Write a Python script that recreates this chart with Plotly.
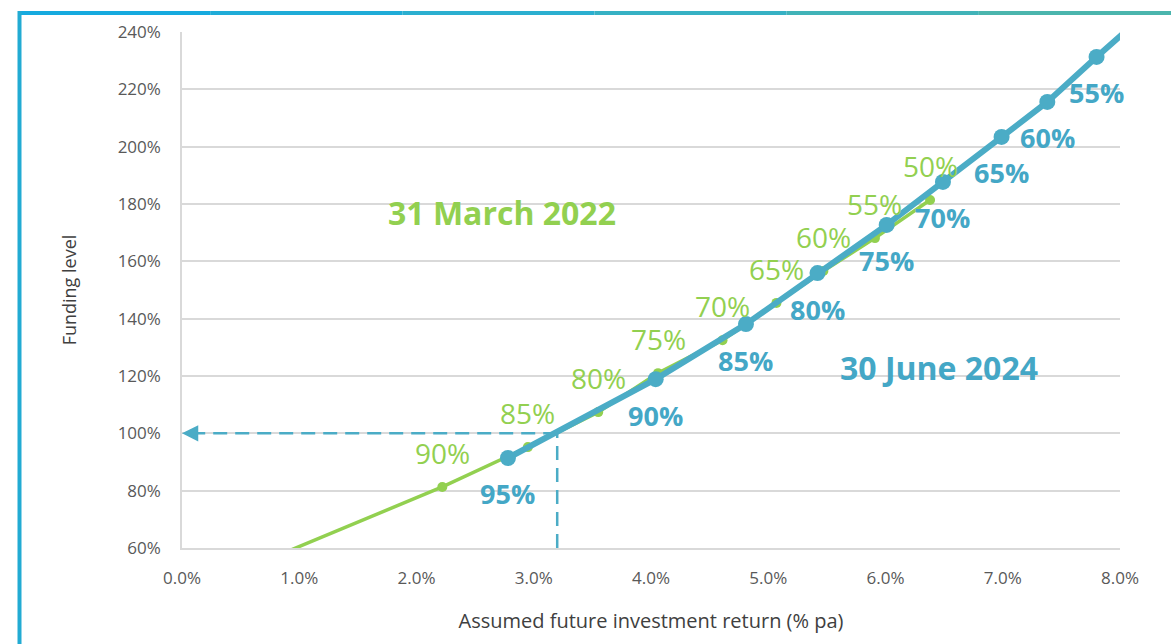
import plotly.graph_objects as go

# Funding level (%) against assumed future investment return (% pa)
# labels show the probability of the funding level being achieved
march22_return = [0.50, 2.22, 2.95, 3.55, 4.06, 4.61, 5.07, 5.47, 5.91, 6.38]
march22_funding = [52.0, 81.3, 95.2, 107.4, 121.0, 132.5, 145.5, 156.6, 168.1, 181.4]
march22_labels = ["95%", "90%", "85%", "80%", "75%", "70%", "65%", "60%", "55%", "50%"]

june24_return = [2.78, 4.04, 4.81, 5.42, 6.01, 6.49, 6.99, 7.38, 7.80, 8.25]
june24_funding = [91.4, 118.9, 138.1, 155.9, 172.7, 187.7, 203.4, 215.6, 231.3, 247.5]
june24_labels = ["95%", "90%", "85%", "80%", "75%", "70%", "65%", "60%", "55%", "50%"]

# return needed for a 100% funding level at 30 June 2024
breakeven_return = 3.2
breakeven_funding = 100

x_range = [0, 8]
y_range = [60, 240]

BLUE = "#4BACC6"
BLUE_TEXT = "#44A7C6"
GREEN = "#92D050"
GREY_TEXT = "#595959"
GRID = "#D9D9D9"
FONT = "'Open Sans', sans-serif"

W, H = 1171, 644
L, R, T, B = 182, 51, 32, 96


def px_x(px):
    return (px - L) / (W - L - R)


def px_y(py):
    return (H - B - py) / (H - T - B)


fig = go.Figure()

# dashed guide lines to the 100% funding level
fig.add_trace(go.Scatter(
    x=[breakeven_return, breakeven_return], y=[y_range[0], breakeven_funding],
    mode='lines', line=dict(color=BLUE, width=2.5, dash='14px,8px'),
    hoverinfo='skip', showlegend=False
))
fig.add_trace(go.Scatter(
    x=[breakeven_return, x_range[0] + 0.08], y=[breakeven_funding, breakeven_funding],
    mode='lines', line=dict(color=BLUE, width=2.5, dash='14px,8px'),
    hoverinfo='skip', showlegend=False
))

fig.add_trace(go.Scatter(
    x=march22_return, y=march22_funding,
    mode='lines+markers', name='31 March 2022',
    line=dict(color=GREEN, width=3.5),
    marker=dict(color=GREEN, size=10),
    text=march22_labels,
    hovertemplate='%{x:.1f}%: %{y:.0f}% (%{text})<extra>31 March 2022</extra>',
    showlegend=False
))

fig.add_trace(go.Scatter(
    x=june24_return, y=june24_funding,
    mode='lines+markers', name='30 June 2024',
    line=dict(color=BLUE, width=6),
    marker=dict(color=BLUE, size=16),
    text=june24_labels,
    hovertemplate='%{x:.1f}%: %{y:.0f}% (%{text})<extra>30 June 2024</extra>',
    showlegend=False
))

annotations = []

# arrow head on the horizontal guide
annotations.append(dict(
    x=x_range[0], y=breakeven_funding, ax=x_range[0] + 0.15, ay=breakeven_funding,
    xref='x', yref='y', axref='x', ayref='y', text='',
    showarrow=True, arrowhead=2, arrowsize=1.3, arrowwidth=2.5, arrowcolor=BLUE
))


def in_range(x, y):
    return x_range[0] <= x <= x_range[1] and y_range[0] <= y <= y_range[1]


for x, y, lab in zip(march22_return, march22_funding, march22_labels):
    if in_range(x, y):
        annotations.append(dict(
            x=x, y=y, text=lab, showarrow=False, yshift=34,
            font=dict(family=FONT, size=28, color=GREEN)
        ))

for x, y, lab in zip(june24_return, june24_funding, june24_labels):
    if in_range(x, y):
        annotations.append(dict(
            x=x, y=y, text='<b>' + lab + '</b>', showarrow=False, yshift=-36,
            font=dict(family=FONT, size=27, color=BLUE_TEXT)
        ))

annotations.append(dict(
    x=2.73, y=177.2, text='<b>31 March 2022</b>', showarrow=False,
    font=dict(family=FONT, size=32, color=GREEN)
))
annotations.append(dict(
    x=6.46, y=123.1, text='<b>30 June 2024</b>', showarrow=False,
    font=dict(family=FONT, size=32, color=BLUE_TEXT)
))

# frame round the chart (blue to teal)
frame_cols = ['#16AADF', '#20ACD8', '#2BAFD0', '#36B1C4', '#41B3B8', '#4BB5AD']
top_y = px_y(13)
x0, x1 = px_x(18), px_x(W)
n = len(frame_cols)
shapes = []
for i, c in enumerate(frame_cols):
    shapes.append(dict(
        type='line', xref='paper', yref='paper',
        x0=x0 + (x1 - x0) * i / n, x1=x0 + (x1 - x0) * (i + 1) / n,
        y0=top_y, y1=top_y, line=dict(color=c, width=4)
    ))
shapes.append(dict(
    type='line', xref='paper', yref='paper',
    x0=px_x(19.5), x1=px_x(19.5), y0=px_y(11), y1=px_y(H),
    line=dict(color='#22ABD3', width=4)
))

fig.update_layout(
    width=W, height=H,
    margin=dict(l=L, r=R, t=T, b=B, autoexpand=False),
    plot_bgcolor='white',
    paper_bgcolor='white',
    font=dict(family=FONT, size=17, color=GREY_TEXT),
    annotations=annotations,
    shapes=shapes,
    showlegend=False
)

fig.update_xaxes(
    range=x_range, dtick=1, tickformat='.1f', ticksuffix='%',
    showgrid=False, zeroline=False,
    showline=True, linecolor=GRID, linewidth=1.5,
    ticks='', ticklabelstandoff=14,
    tickfont=dict(family=FONT, size=17, color=GREY_TEXT),
    title=dict(text='Assumed future investment return (% pa)', standoff=26,
               font=dict(family=FONT, size=20, color='#404040'))
)
fig.update_yaxes(
    range=y_range, dtick=20, ticksuffix='%',
    showgrid=True, gridcolor=GRID, gridwidth=1.5, zeroline=False,
    showline=True, linecolor=GRID, linewidth=1.5,
    ticks='', ticklabelstandoff=16,
    tickfont=dict(family=FONT, size=17, color=GREY_TEXT),
    title=dict(text='Funding level', standoff=36,
               font=dict(family=FONT, size=18, color='#404040'))
)

fig.write_html("out.html", config={'displayModeBar': False},
               post_script="document.body.style.margin='0';")
